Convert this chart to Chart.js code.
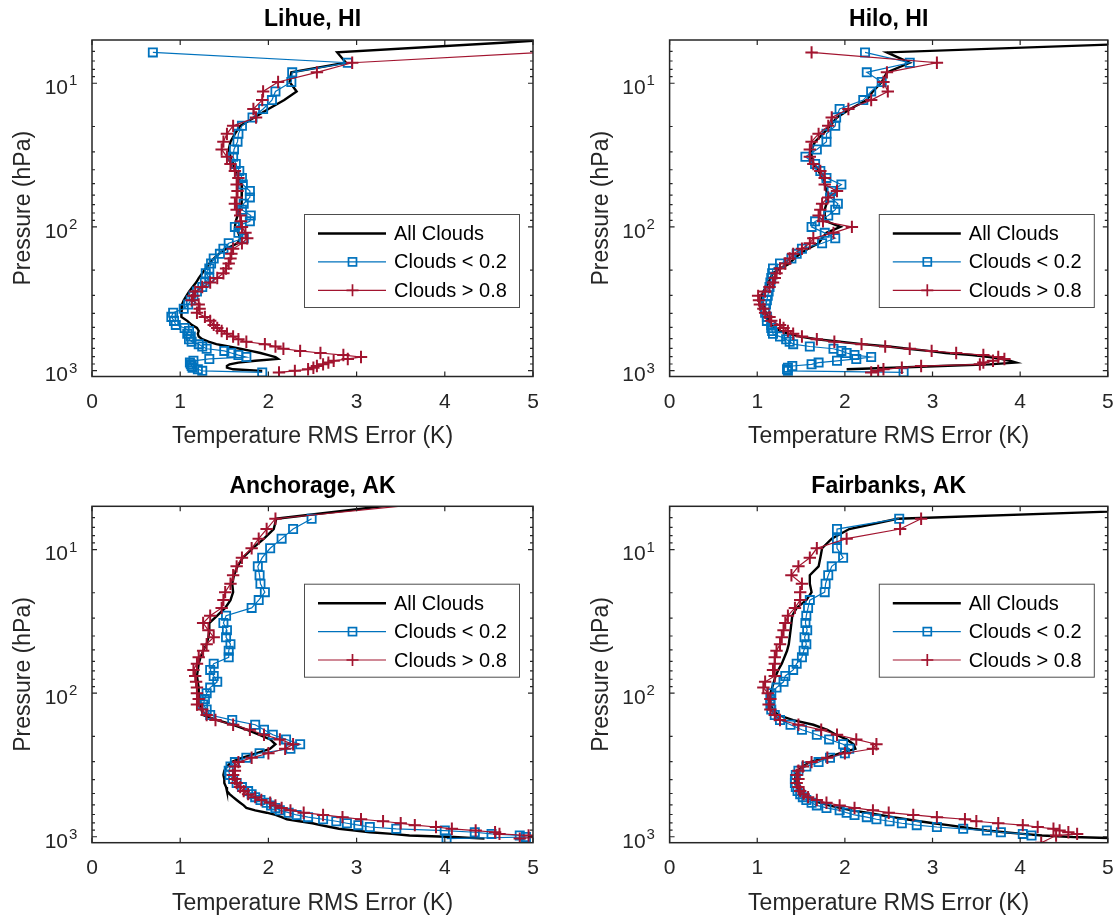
<!DOCTYPE html>
<html>
<head>
<meta charset="utf-8">
<script src="https://cdn.jsdelivr.net/npm/chart.js@4.4.0/dist/chart.umd.min.js"></script>
<style>
  html, body { margin: 0; padding: 0; background: #fff; }
  #fig { position: relative; width: 1116px; height: 917px; }
  canvas { position: absolute; }
</style>
</head>
<body>
<div id="fig">
  <canvas id="lihue" width="558" height="466" style="left:0;top:0"></canvas>
  <canvas id="hilo" width="558" height="466" style="left:558px;top:0"></canvas>
  <canvas id="anchorage" width="558" height="451" style="left:0;top:466px"></canvas>
  <canvas id="fairbanks" width="558" height="451" style="left:558px;top:466px"></canvas>
</div>
<script>
// pressure levels (hPa), shared by every profile
const pressure = [4.6, 5.2, 6.1, 7.2, 8.4, 9.8, 11.4, 13.1, 15.1, 17.3, 19.8, 22.5,
  25.5, 28.9, 32.5, 36.5, 40.8, 45.6, 50.7, 56.3, 62.3, 68.9, 75.9, 83.4,
  91.5, 100, 110, 120, 130, 142, 154, 166, 180, 195, 210, 227,
  244, 262, 282, 302, 324, 347, 371, 396, 423, 451, 481, 505,
  530, 555, 580, 605, 630, 655, 680, 705, 730, 755, 780, 805,
  830, 855, 880, 905, 930, 955, 980, 1005, 1030, 1055, 1080, 1100];

const seriesLabels = ['All Clouds', 'Clouds < 0.2', 'Clouds > 0.8'];
const xTickValues = [0, 1, 2, 3, 4, 5];
const yTickValues = [10, 100, 1000];
const yTickExponents = {10: '1', 100: '2', 1000: '3'};

// RMS error (K) per level
const lihueAll = [6.2, 4.7, 2.78, 2.88, 2.26, 2.24, 2.32, 2.18, 2.00, 1.84, 1.68, 1.62,
  1.57, 1.55, 1.57, 1.60, 1.63, 1.66, 1.70, 1.70, 1.70, 1.69, 1.67, 1.65,
  1.63, 1.62, 1.66, 1.68, 1.65, 1.52, 1.44, 1.38, 1.33, 1.29, 1.25, 1.21,
  1.18, 1.14, 1.10, 1.07, 1.04, 1.02, 1.01, 1.01, 1.02, 1.08, 1.13, 1.19,
  1.21, 1.20, 1.21, 1.25, 1.32, 1.41, 1.55, 1.68, 1.80, 1.91, 2.00, 2.08,
  2.11, 1.85, 1.66, 1.56, 1.53, 1.53, 1.60, 1.93, null, null, null, null];
const lihueClear = [null, null, 0.69, 2.90, 2.27, 2.26, 2.08, 2.04, 1.94, 1.82, 1.70, 1.66,
  1.65, 1.61, 1.60, 1.63, 1.67, 1.70, 1.71, 1.79, 1.79, 1.72, 1.70, 1.80,
  1.79, 1.62, 1.66, 1.72, 1.55, 1.49, 1.45, 1.38, 1.35, 1.33, 1.29, 1.33,
  1.28, 1.25, 1.19, 1.15, 1.12, 1.09, 1.04, 0.92, 0.90, 0.93, 0.95, 1.05,
  1.10, 1.08, 1.12, 1.10, 1.13, 1.21, 1.25, 1.30, 1.50, 1.58, 1.66, 1.75,
  1.33, 1.15, 1.11, 1.12, 1.13, 1.14, 1.20, 1.25, 1.93, null, null, null];
const lihueCloudy = [null, null, 5.1, 2.95, 2.55, 2.11, 1.94, 1.93, 1.83, 1.86, 1.60, 1.53,
  1.49, 1.47, 1.53, 1.57, 1.62, 1.66, 1.64, 1.65, 1.64, 1.62, 1.64, 1.68,
  1.69, 1.70, 1.74, 1.76, 1.70, 1.60, 1.58, 1.57, 1.55, 1.52, 1.49, 1.42,
  1.34, 1.25, 1.17, 1.15, 1.13, 1.21, 1.22, 1.19, 1.28, 1.34, 1.38, 1.42,
  1.47, 1.53, 1.60, 1.66, 1.75, 1.96, 2.08, 2.17, 2.36, 2.59, 2.85, 3.05,
  2.90, 2.74, 2.68, 2.62, 2.55, 2.51, 2.45, 2.30, 2.12, null, null, null];

const hiloAll = [null, 5.7, 2.48, 2.74, 2.48, 2.42, 2.32, 2.25, 2.06, 1.91, 1.83, 1.75,
  1.66, 1.62, 1.62, 1.64, 1.70, 1.74, 1.77, 1.79, 1.81, 1.79, 1.77, 1.77,
  1.79, 1.95, 1.79, 1.74, 1.70, 1.58, 1.49, 1.42, 1.37, 1.26, 1.18, 1.15,
  1.13, 1.10, 1.07, 1.05, 1.05, 1.07, 1.08, 1.10, 1.11, 1.14, 1.16, 1.20,
  1.26, 1.36, 1.49, 1.68, 1.94, 2.20, 2.50, 2.72, 2.95, 3.15, 3.45, 3.65,
  3.78, 3.88, 3.95, 3.65, 3.10, 2.55, 2.02, null, null, null, null, null];
const hiloClear = [null, null, 2.23, 2.74, 2.25, 2.42, 2.30, 2.21, 1.94, 1.90, 1.89, 1.79,
  1.79, 1.68, 1.55, 1.66, 1.72, 1.79, 1.96, 1.85, 1.83, 1.92, 1.89, 1.81,
  1.66, 1.62, 1.77, 1.89, 1.74, 1.51, 1.45, 1.39, 1.26, 1.18, 1.17, 1.16,
  1.15, 1.14, 1.13, 1.12, 1.11, 1.10, 1.09, 1.09, 1.11, 1.11, 1.16, 1.16,
  1.17, 1.18, 1.26, 1.33, 1.37, 1.41, 1.60, 1.87, 1.96, 2.02, 2.11, 2.30,
  2.13, 1.91, 1.70, 1.62, 1.40, 1.35, 1.34, 1.35, 2.67, null, null, null];
const hiloCloudy = [null, null, 1.62, 3.05, 2.48, 2.44, 2.49, 2.30, 2.04, 1.85, 1.81, 1.70,
  1.62, 1.60, 1.60, 1.64, 1.72, 1.77, 1.77, 1.91, 1.81, 1.74, 1.72, 1.70,
  1.75, 2.08, 1.87, 1.64, 1.60, 1.51, 1.41, 1.37, 1.32, 1.26, 1.22, 1.20,
  1.18, 1.14, 1.09, 1.01, 1.02, 1.03, 1.07, 1.09, 1.14, 1.16, 1.26, 1.30,
  1.35, 1.41, 1.51, 1.68, 1.88, 2.19, 2.46, 2.74, 2.99, 3.27, 3.58, 3.75,
  3.82, 3.69, 3.58, 3.54, 2.87, 2.65, 2.44, 2.38, 2.30, null, null, null];

const anchorageAll = [3.79, null, 2.09, 2.06, 1.95, 1.82, 1.71, 1.65, 1.61, 1.59, 1.60, 1.57,
  1.51, 1.42, 1.33, 1.33, 1.32, 1.30, 1.26, 1.23, 1.21, 1.20, 1.19, 1.20,
  1.21, 1.21, 1.22, 1.23, 1.24, 1.26, 1.42, 1.60, 1.76, 1.90, 2.02, 2.08,
  2.02, 1.87, 1.70, 1.58, 1.53, 1.50, 1.49, 1.50, 1.50, 1.52, 1.53, 1.56,
  1.60, 1.64, 1.68, 1.72, 1.75, 1.85, 1.98, 2.08, 2.15, 2.21, 2.35, 2.50,
  2.59, 2.70, 2.80, 2.98, 3.15, 3.40, 3.60, 4.10, 4.45, null, null, null];
const anchorageClear = [null, null, 2.49, 2.28, 2.15, 2.02, 1.93, 1.88, 1.90, 1.91, 1.96, 1.89,
  1.81, 1.52, 1.49, 1.53, 1.52, 1.57, 1.55, 1.55, 1.38, 1.34, 1.38, 1.42,
  1.34, 1.30, 1.28, 1.26, 1.30, 1.34, 1.59, 1.85, 1.95, 2.05, 2.20, 2.36,
  2.25, 1.90, 1.75, 1.62, 1.57, 1.55, 1.56, 1.60, 1.64, 1.70, 1.77, 1.81,
  1.85, 1.91, 1.98, 2.03, 2.08, 2.13, 2.23, 2.32, 2.45, 2.62, 2.77, 2.89,
  3.02, 3.15, 3.45, 4.00, 4.34, 4.53, 4.85, 4.92, 4.02, null, null, null];
const anchorageCloudy = [4.07, null, 2.08, 1.98, 1.89, 1.81, 1.70, 1.64, 1.60, 1.57, 1.51, 1.49,
  1.47, 1.34, 1.26, 1.32, 1.38, 1.30, 1.26, 1.21, 1.19, 1.15, 1.17, 1.18,
  1.19, 1.19, 1.21, 1.19, 1.25, 1.30, 1.40, 1.60, 1.79, 1.95, 2.13, 2.28,
  2.19, 2.00, 1.81, 1.66, 1.62, 1.62, 1.60, 1.62, 1.64, 1.68, 1.72, 1.77,
  1.85, 1.92, 2.02, 2.08, 2.15, 2.25, 2.40, 2.62, 2.84, 3.05, 3.30, 3.50,
  3.66, 3.90, 4.08, 4.35, 4.57, 4.62, 4.95, 5.05, 4.85, null, null, null];

const fairbanksAll = [null, 6.0, 2.60, 2.05, 1.85, 1.74, 1.72, 1.70, 1.60, 1.60, 1.62, 1.56,
  1.45, 1.40, 1.39, 1.38, 1.37, 1.36, 1.34, 1.31, 1.28, 1.24, 1.21, 1.19,
  1.17, 1.15, 1.15, 1.15, 1.18, 1.24, 1.41, 1.64, 1.80, 1.90, 2.02, 2.10,
  2.12, 1.95, 1.78, 1.60, 1.52, 1.46, 1.44, 1.43, 1.43, 1.45, 1.48, 1.51,
  1.56, 1.62, 1.72, 1.82, 1.94, 2.08, 2.25, 2.40, 2.55, 2.70, 2.85, 3.01,
  3.18, 3.33, 3.46, 3.62, 3.82, 4.03, 4.25, 4.60, 5.30, null, null, null];
const fairbanksClear = [null, null, 2.62, 1.91, 1.91, 1.91, 1.98, 1.85, 1.81, 1.78, 1.77, 1.60,
  1.58, 1.56, 1.55, 1.57, 1.54, 1.56, 1.53, 1.51, 1.45, 1.41, 1.32, 1.30,
  1.22, 1.16, 1.15, 1.15, 1.16, 1.20, 1.26, 1.38, 1.51, 1.68, 1.82, 1.98,
  2.05, 2.00, 1.83, 1.70, 1.56, 1.47, 1.44, 1.43, 1.43, 1.44, 1.46, 1.49,
  1.52, 1.56, 1.62, 1.68, 1.79, 1.94, 2.02, 2.11, 2.25, 2.36, 2.51, 2.65,
  2.82, 3.05, 3.35, 3.62, 3.78, 4.03, 4.13, null, null, null, null, null];
const fairbanksCloudy = [null, null, 2.87, 2.63, 2.02, 1.68, 1.60, 1.47, 1.39, 1.51, 1.49, 1.49,
  1.43, 1.35, 1.32, 1.30, 1.28, 1.26, 1.22, 1.20, 1.20, 1.18, 1.20, 1.09,
  1.07, 1.12, 1.15, 1.13, 1.15, 1.20, 1.26, 1.47, 1.73, 1.91, 2.13, 2.36,
  2.32, 2.00, 1.80, 1.62, 1.52, 1.47, 1.45, 1.47, 1.45, 1.47, 1.49, 1.53,
  1.58, 1.68, 1.79, 1.94, 2.11, 2.32, 2.50, 2.78, 3.05, 3.37, 3.50, 3.75,
  4.03, 4.20, 4.38, 4.45, 4.55, 4.65, 4.41, null, null, null, null, 4.24];

const BLUE = '#0072BD';
const RED = '#A2142F';
const AXIS = '#262626';
const FONT = '"Liberation Sans", Arial, Helvetica, sans-serif';

const minorP = [6, 7, 8, 9, 10, 20, 30, 40, 50, 60, 70, 80, 90, 100,
  200, 300, 400, 500, 600, 700, 800, 900, 1000];

function toPoints(values) {
  const pts = [];
  values.forEach((v, i) => { if (v !== null) pts.push({x: v, y: pressure[i]}); });
  return pts;
}

// hide markers that fall outside the axes box
function markerRadius(r) {
  return ctx => {
    const p = ctx.raw;
    return p && p.x >= 0 && p.x <= 5 && p.y >= 5 ? r : 0;
  };
}

// box, inside ticks, decade exponents, title and legend in MATLAB style
const panelDecor = {
  id: 'panelDecor',
  afterDatasetsDraw(chart, args, opts) {
    const {ctx, chartArea: a, scales: {x, y}} = chart;
    ctx.save();

    ctx.strokeStyle = AXIS;
    ctx.lineWidth = 1.2;
    ctx.beginPath();
    xTickValues.forEach(v => {
      const px = x.getPixelForValue(v);
      ctx.moveTo(px, a.bottom); ctx.lineTo(px, a.bottom - 5);
      ctx.moveTo(px, a.top); ctx.lineTo(px, a.top + 5);
    });
    minorP.forEach(p => {
      const py = y.getPixelForValue(p);
      const len = yTickValues.includes(p) ? 5 : 3;
      ctx.moveTo(a.left, py); ctx.lineTo(a.left + len, py);
      ctx.moveTo(a.right, py); ctx.lineTo(a.right - len, py);
    });
    ctx.stroke();
    ctx.lineWidth = 1.5;
    ctx.strokeRect(a.left, a.top, a.right - a.left, a.bottom - a.top);

    // exponent of each decade label, raised after the "10"
    ctx.fillStyle = AXIS;
    ctx.font = '15px ' + FONT;
    ctx.textAlign = 'left';
    ctx.textBaseline = 'middle';
    yTickValues.forEach(p => {
      ctx.fillText(yTickExponents[p], a.left - 23, y.getPixelForValue(p) - 2);
    });

    ctx.fillStyle = '#000';
    ctx.font = 'bold 23px ' + FONT;
    ctx.textAlign = 'center';
    ctx.fillText(opts.title, (a.left + a.right) / 2, a.top - 20);

    // legend
    const lx = a.right - 229, ly = a.top + opts.legendTop, lw = 215, lh = 93;
    ctx.fillStyle = '#fff';
    ctx.fillRect(lx, ly, lw, lh);
    ctx.strokeStyle = '#4d4d4d';
    ctx.lineWidth = 1;
    ctx.strokeRect(lx + 0.5, ly + 0.5, lw, lh);
    chart.data.datasets.forEach((ds, i) => {
      const ry = ly + 19.5 + i * 28.4;
      const mx = lx + 48.5;
      ctx.strokeStyle = ds.borderColor;
      ctx.lineWidth = ds.borderWidth;
      ctx.beginPath();
      ctx.moveTo(lx + 14, ry); ctx.lineTo(lx + 82, ry);
      ctx.stroke();
      ctx.lineWidth = 1.7;
      if (ds.pointStyle === 'rect') {
        ctx.strokeRect(mx - 4, ry - 4, 8, 8);
      } else if (ds.pointStyle === 'cross') {
        ctx.beginPath();
        ctx.moveTo(mx - 6, ry); ctx.lineTo(mx + 6, ry);
        ctx.moveTo(mx, ry - 6); ctx.lineTo(mx, ry + 6);
        ctx.stroke();
      }
      ctx.fillStyle = '#000';
      ctx.font = '20px ' + FONT;
      ctx.textAlign = 'left';
      ctx.fillText(ds.label, lx + 90, ry + 1);
    });
    ctx.restore();
  }
};

const panels = [
  {id: 'lihue', title: 'Lihue, HI', series: [lihueAll, lihueClear, lihueCloudy],
    pad: {left: 0, right: 25, top: 40, bottom: 15.2}, legendTop: 174},
  {id: 'hilo', title: 'Hilo, HI', series: [hiloAll, hiloClear, hiloCloudy],
    pad: {left: 19.6, right: 8, top: 40, bottom: 15.2}, legendTop: 174},
  {id: 'anchorage', title: 'Anchorage, AK', series: [anchorageAll, anchorageClear, anchorageCloudy],
    pad: {left: 0, right: 25, top: 40.3, bottom: 0}, legendTop: 77.4},
  {id: 'fairbanks', title: 'Fairbanks, AK', series: [fairbanksAll, fairbanksClear, fairbanksCloudy],
    pad: {left: 19.6, right: 8, top: 40.3, bottom: 0}, legendTop: 77.4},
];

panels.forEach(panel => {
  const [all, clear, cloudy] = panel.series;
  new Chart(document.getElementById(panel.id), {
    type: 'scatter',
    data: {
      datasets: [
        {label: seriesLabels[0], data: toPoints(all), showLine: true, borderColor: '#000',
          borderWidth: 2.4, pointRadius: 0, order: 3},
        {label: seriesLabels[1], data: toPoints(clear), showLine: true, borderColor: BLUE,
          borderWidth: 1.2, pointStyle: 'rect', pointRadius: markerRadius(5.8),
          pointBorderColor: BLUE, pointBackgroundColor: 'rgba(0,0,0,0)', pointBorderWidth: 1.8, order: 2},
        {label: seriesLabels[2], data: toPoints(cloudy), showLine: true, borderColor: RED,
          borderWidth: 1.2, pointStyle: 'cross', pointRadius: markerRadius(6.2),
          pointBorderColor: RED, pointBorderWidth: 2, order: 1},
      ]
    },
    options: {
      responsive: false,
      animation: false,
      events: [],
      layout: {padding: panel.pad},
      plugins: {
        legend: {display: false},
        tooltip: {enabled: false},
        panelDecor: {title: panel.title, legendTop: panel.legendTop}
      },
      scales: {
        x: {
          type: 'linear', min: 0, max: 5,
          grid: {display: false, drawTicks: false},
          border: {display: false},
          ticks: {stepSize: 1, padding: 12.9, maxRotation: 0, color: AXIS, font: {family: FONT, size: 21}},
          title: {display: true, text: 'Temperature RMS Error (K)', color: AXIS,
            font: {family: FONT, size: 23}, padding: {top: 0, bottom: 0}},
          afterFit: s => { s.height = 74.3; s.paddingLeft = 0; s.paddingRight = 0; }
        },
        y: {
          type: 'logarithmic', min: 5, max: 1100, reverse: true,
          grid: {display: false, drawTicks: false},
          border: {display: false},
          afterBuildTicks: s => { s.ticks = yTickValues.map(v => ({value: v})); },
          ticks: {autoSkip: false, padding: 24, labelOffset: 5, color: AXIS,
            font: {family: FONT, size: 21}, callback: () => '10'},
          title: {display: true, text: 'Pressure (hPa)', color: AXIS,
            font: {family: FONT, size: 23}, padding: {top: 10.2, bottom: 0}},
          afterFit: s => { s.width = 92; s.paddingTop = 0; s.paddingBottom = 0; }
        }
      }
    },
    plugins: [panelDecor]
  });
});
</script>
</body>
</html>
